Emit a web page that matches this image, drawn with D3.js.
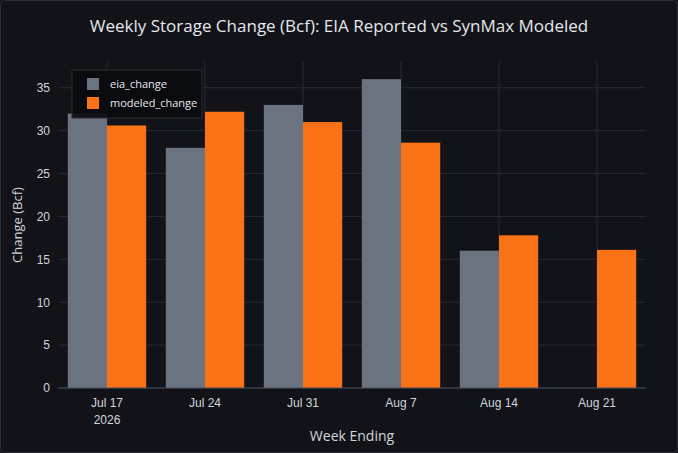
<!DOCTYPE html>
<html><head><meta charset="utf-8">
<script src="https://cdn.jsdelivr.net/npm/d3@7"></script>
<style>
body{margin:0;background:#111318;}
svg{display:block;font-family:"Open Sans","Noto Sans",sans-serif;}
</style></head>
<body><div id="root"></div>
<script>
const weeks = ['Jul 17', 'Jul 24', 'Jul 31', 'Aug 7', 'Aug 14', 'Aug 21'];
const eiaChange = [32, 28, 33, 36, 16, null];
const modeledChange = [30.6, 32.2, 31, 28.6, 17.8, 16.1];
const yTicks = [0, 5, 10, 15, 20, 25, 30, 35];

const W = 678, H = 453;
const margin = {top: 62, right: 32, bottom: 65, left: 58};
const width = W - margin.left - margin.right;
const height = H - margin.top - margin.bottom;

const svg = d3.select('#root').append('svg').attr('width', W).attr('height', H);
svg.append('rect').attr('x', 0.5).attr('y', 0.5).attr('width', W - 1).attr('height', H - 1)
  .attr('rx', 4).attr('fill', '#111318').attr('stroke', '#2a2d33');

svg.append('text').attr('x', W / 2).attr('y', 32).attr('text-anchor', 'middle')
  .attr('fill', '#e5e7eb').attr('font-size', 17)
  .text('Weekly Storage Change (Bcf): EIA Reported vs SynMax Modeled');

const g = svg.append('g').attr('transform', `translate(${margin.left},${margin.top})`);

const x = d3.scaleBand().domain(weeks).range([0, width]).paddingInner(0.2).paddingOuter(0.1);
const x1 = d3.scaleBand().domain(['eia', 'mod']).range([0, x.bandwidth()]);
const y = d3.scaleLinear().domain([0, 38]).range([height, 0]);

// grid
g.selectAll('.hg').data(yTicks.slice(1)).enter().append('line')
  .attr('x1', 0).attr('x2', width).attr('y1', d => y(d)).attr('y2', d => y(d))
  .attr('stroke', '#262a31');
g.selectAll('.vg').data(weeks).enter().append('line')
  .attr('x1', d => x(d) + x.bandwidth() / 2).attr('x2', d => x(d) + x.bandwidth() / 2)
  .attr('y1', 0).attr('y2', height).attr('stroke', '#262a31');

const series = [
  {key: 'eia', values: eiaChange, color: '#6b7280'},
  {key: 'mod', values: modeledChange, color: '#f97316'}
];
series.forEach(s => {
  g.selectAll('.b' + s.key).data(weeks.map((w, i) => ({w, v: s.values[i]})).filter(d => d.v != null))
    .enter().append('rect')
    .attr('x', d => x(d.w) + x1(s.key)).attr('width', x1.bandwidth())
    .attr('y', d => y(d.v)).attr('height', d => height - y(d.v)).attr('fill', s.color);
});

g.append('line').attr('x1', 0).attr('x2', width).attr('y1', height).attr('y2', height).attr('stroke', '#4b5563');

const yAxis = g.append('g').call(d3.axisLeft(y).tickValues(yTicks).tickSize(0).tickPadding(8));
yAxis.select('.domain').remove();
yAxis.selectAll('text').attr('fill', '#d1d5db').attr('font-size', 12);

const xAxis = g.append('g').attr('transform', `translate(0,${height})`)
  .call(d3.axisBottom(x).tickSize(0).tickPadding(10));
xAxis.select('.domain').remove();
xAxis.selectAll('text').attr('fill', '#d1d5db').attr('font-size', 12);
xAxis.append('text').attr('x', x(weeks[0]) + x.bandwidth() / 2).attr('y', 36)
  .attr('text-anchor', 'middle').attr('fill', '#d1d5db').attr('font-size', 12).text('2026');

svg.append('text').attr('x', W / 2 + 13).attr('y', 441).attr('text-anchor', 'middle')
  .attr('fill', '#d1d5db').attr('font-size', 14).text('Week Ending');
svg.append('text').attr('transform', `translate(22,${margin.top + height / 2}) rotate(-90)`)
  .attr('text-anchor', 'middle').attr('fill', '#d1d5db').attr('font-size', 13).text('Change (Bcf)');

// legend
const lg = svg.append('g').attr('transform', 'translate(72,70)');
lg.append('rect').attr('width', 130).attr('height', 48).attr('fill', 'rgba(10,11,14,0.92)').attr('stroke', '#2a2d33');
[['eia_change', '#6b7280'], ['modeled_change', '#f97316']].forEach((d, i) => {
  lg.append('rect').attr('x', 15).attr('y', 8 + i * 19).attr('width', 12).attr('height', 12).attr('fill', d[1]);
  lg.append('text').attr('x', 38).attr('y', 18 + i * 19).attr('fill', '#e5e7eb').attr('font-size', 11).text(d[0]);
});
</script></body></html>
